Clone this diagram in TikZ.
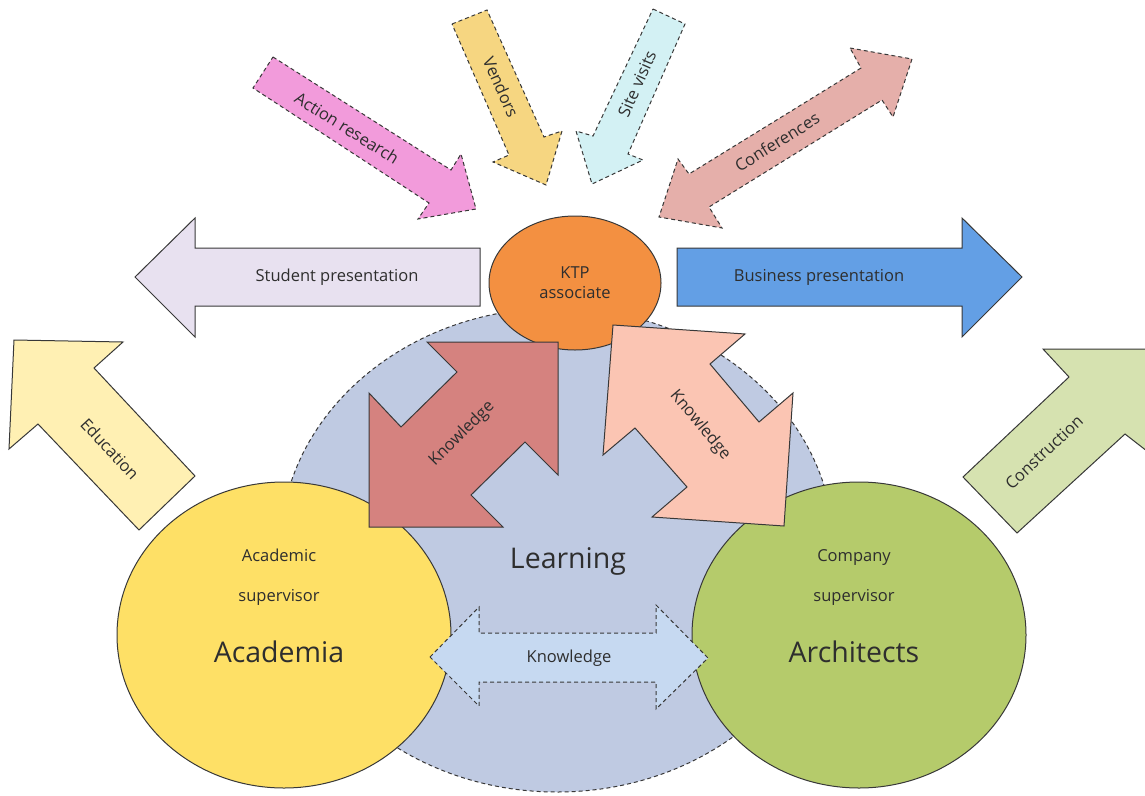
\documentclass[tikz,border=0pt]{standalone}
\usepackage{fontspec}
\setmainfont{Open Sans}
\usetikzlibrary{shapes.geometric}

\definecolor{learnblue}{HTML}{BFCAE2}
\definecolor{acadyellow}{HTML}{FEE066}
\definecolor{archgreen}{HTML}{B5CB6B}
\definecolor{ktporange}{HTML}{F39041}
\definecolor{knowred}{HTML}{D5827F}
\definecolor{knowpeach}{HTML}{FBC5B3}
\definecolor{knowblue}{HTML}{C6D9F1}
\definecolor{studlilac}{HTML}{E8E1F0}
\definecolor{busblue}{HTML}{639FE5}
\definecolor{eduyellow}{HTML}{FFF0B3}
\definecolor{constgreen}{HTML}{D6E2B0}
\definecolor{actpink}{HTML}{F29BDB}
\definecolor{vendtan}{HTML}{F6D681}
\definecolor{sitecyan}{HTML}{D3F1F4}
\definecolor{confrose}{HTML}{E5AFAA}

\begin{document}
\begin{tikzpicture}[x=1pt,y=-1pt,
  outline/.style={draw=black!78, line width=1pt},
  dashline/.style={draw=black!78, line width=1pt, dash pattern=on 4pt off 3pt},
  txt/.style={text=black!82, font=\fontsize{16.5}{20}\selectfont},
  bigtxt/.style={text=black!82, font=\fontsize{28.5}{34}\selectfont}]
\useasboundingbox (0,0) rectangle (1145,795);

% the three circles
\node[ellipse, dashline, fill=learnblue, minimum width=554pt, minimum height=484pt] (learn) at (557,550) {};
\node[ellipse, outline, fill=acadyellow, minimum width=334pt, minimum height=306pt] (acad) at (284,635) {};
\node[ellipse, outline, fill=archgreen, minimum width=334pt, minimum height=306pt] (arch) at (859,635) {};
\node[ellipse, outline, fill=ktporange, minimum width=172pt, minimum height=134pt, txt, align=center] (ktp) at (575,283) {KTP\\associate};

\node[bigtxt] (learnlbl) at (568,561) {Learning};
\node[txt, align=center, font=\fontsize{16.5}{40}\selectfont] (acadsup) at (279,577) {Academic\\supervisor};
\node[bigtxt] (acadlbl) at (279,652) {Academia};
\node[txt, align=center, font=\fontsize{16.5}{40}\selectfont] (archsup) at (854,577) {Company\\supervisor};
\node[bigtxt] (archlbl) at (854,652) {Architects};

% presentations
\draw[outline, fill=studlilac] (480,248) -- (195,248) -- (195,218) -- (135,277) -- (195,337) -- (195,306) -- (480,306) -- cycle;
\node[txt] (stud) at (337,277) {Student presentation};
\draw[outline, fill=busblue] (677,248) -- (962,248) -- (962,218) -- (1022,277) -- (962,337) -- (962,306) -- (677,306) -- cycle;
\node[txt] (bus) at (819,277) {Business presentation};

% outputs
\draw[outline, fill=eduyellow] (14,340) -- (123,342) -- (94,368) -- (195,476) -- (139,530) -- (38,424) -- (9,449) -- cycle;
\node[txt, rotate=-47] (edu) at (110,449) {Education};
\draw[outline, fill=constgreen] (1150,349) -- (1043,349) -- (1069,377) -- (963,477) -- (1017,533) -- (1125,434) -- (1152,455) -- cycle;
\node[txt, rotate=43] (const) at (1044,452) {Construction};

% inputs to the associate
\draw[dashline, fill=actpink] (273,57) -- (451,170) -- (461,154) -- (476,209) -- (418,219) -- (429,203) -- (253,88) -- cycle;
\node[txt, rotate=-32] (act) at (347,128) {Action research};
\draw[dashline, fill=vendtan] (452,24) -- (487,10) -- (544,137) -- (562,131) -- (546,185) -- (493,162) -- (509,155) -- cycle;
\node[txt, rotate=-66] (vend) at (501,87) {Vendors};
\draw[dashline, fill=sitecyan] (653,9) -- (685,24) -- (628,154) -- (643,160) -- (592,184) -- (576,131) -- (593,136) -- cycle;
\node[txt, rotate=66] (site) at (637,84) {Site visits};
\draw[dashline, fill=confrose] (850,48) -- (912,59) -- (893,117) -- (882,100) -- (709,207) -- (722,228) -- (659,217) -- (678,159) -- (689,174) -- (861,68) -- cycle;
\node[txt, rotate=32] (conf) at (777,142) {Conferences};

% knowledge exchange
\draw[outline, fill=knowred] (427,342) -- (558,342) -- (558,475) -- (525,442) -- (471,495) -- (503,527) -- (369,527) -- (369,393) -- (401,427) -- (457,372) -- cycle;
\node[txt, rotate=45] (knowa) at (462,434) {Knowledge};
\draw[outline, fill=knowpeach] (613,325) -- (745,334) -- (710,364) -- (759,422) -- (793,393) -- (784,526) -- (652,517) -- (687,487) -- (635,428) -- (603,455) -- cycle;
\node[txt, rotate=-50] (knowb) at (700,425) {Knowledge};
\draw[dashline, fill=knowblue] (430,657) -- (479,607) -- (479,633) -- (656,633) -- (656,605) -- (708,658) -- (656,709) -- (656,682) -- (479,682) -- (479,706) -- cycle;
\node[txt] (knowc) at (569,658) {Knowledge};
\end{tikzpicture}
\end{document}
